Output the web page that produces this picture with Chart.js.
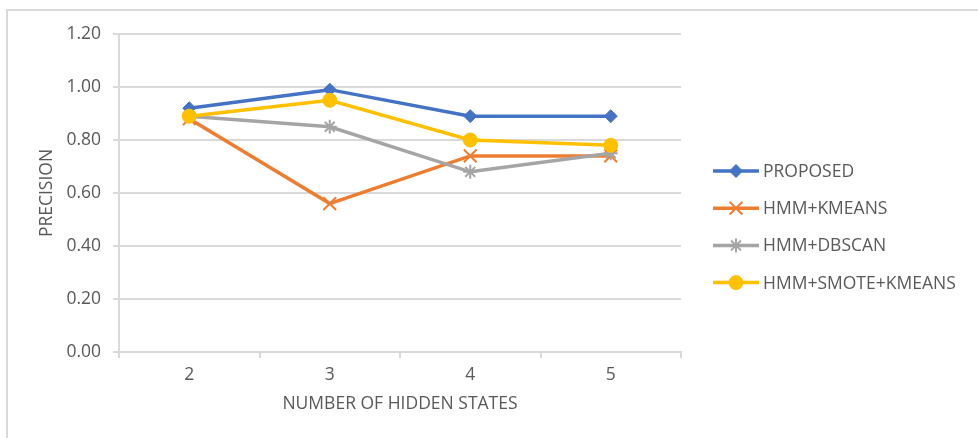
<!DOCTYPE html>
<html>
<head>
<meta charset="utf-8">
<script src="https://cdn.jsdelivr.net/npm/chart.js@4.4.1/dist/chart.umd.min.js"></script>
<style>
  html, body { margin: 0; padding: 0; background: #fff; }
  #wrap { position: relative; width: 978px; height: 438px; overflow: hidden; }
  #frame { position: absolute; left: 6px; top: 9px; width: 1000px; height: 500px;
           border-left: 2px solid #d9d9d9; border-top: 2px solid #d9d9d9; }
  canvas { position: absolute; left: 0; top: 0; }
</style>
</head>
<body>
<div id="wrap">
  <div id="frame"></div>
  <canvas id="precisionChart" width="978" height="438"></canvas>
</div>
<script>
// data
const hiddenStates = ['2', '3', '4', '5'];
const proposed = [0.92, 0.99, 0.89, 0.89];
const hmmKmeans = [0.88, 0.56, 0.74, 0.74];
const hmmDbscan = [0.89, 0.85, 0.68, 0.75];
const hmmSmoteKmeans = [0.89, 0.95, 0.80, 0.78];
const seriesNames = ['PROPOSED', 'HMM+KMEANS', 'HMM+DBSCAN', 'HMM+SMOTE+KMEANS'];
const yTickValues = [0, 0.2, 0.4, 0.6, 0.8, 1.0, 1.2];

const textColor = '#595959';
const gridColor = '#d9d9d9';
const fontFamily = '"Open Sans", "Liberation Sans", sans-serif';
const fontSize = 17.5;

// Excel-style legend: line sample with marker in the middle
const sideLegend = {
  id: 'sideLegend',
  afterDraw(chart) {
    const ctx = chart.ctx;
    const x0 = 713, lineLen = 46, y0 = 171, step = 37.2;
    chart.data.datasets.forEach((ds, i) => {
      const y = y0 + i * step;
      ctx.save();
      ctx.strokeStyle = ds.borderColor;
      ctx.lineWidth = ds.borderWidth;
      ctx.beginPath();
      ctx.moveTo(x0, y);
      ctx.lineTo(x0 + lineLen, y);
      ctx.stroke();
      ctx.fillStyle = ds.pointBackgroundColor;
      ctx.strokeStyle = ds.pointBorderColor;
      ctx.lineWidth = ds.pointBorderWidth;
      Chart.helpers.drawPoint(ctx, {
        pointStyle: ds.pointStyle,
        radius: ds.pointRadius,
        borderWidth: ds.pointBorderWidth,
        rotation: 0
      }, x0 + lineLen / 2, y);
      ctx.fillStyle = textColor;
      ctx.font = fontSize + 'px ' + fontFamily;
      ctx.textAlign = 'left';
      ctx.textBaseline = 'middle';
      ctx.fillText(ds.label, x0 + lineLen + 4, y + 1);
      ctx.restore();
    });
  }
};

function series(label, data, color, style, radius, bw, order) {
  return {
    label: label,
    data: data,
    borderColor: color,
    backgroundColor: color,
    borderWidth: 3.5,
    pointStyle: style,
    pointRadius: radius,
    pointHoverRadius: radius,
    pointBackgroundColor: color,
    pointBorderColor: color,
    pointBorderWidth: bw,
    tension: 0,
    order: order
  };
}

const ctx = document.getElementById('precisionChart').getContext('2d');
new Chart(ctx, {
  type: 'line',
  data: {
    labels: hiddenStates,
    datasets: [
      series(seriesNames[0], proposed, '#4472C4', 'rectRot', 6.5, 1, 3),
      series(seriesNames[1], hmmKmeans, '#ED7D31', 'crossRot', 9, 2, 2),
      series(seriesNames[2], hmmDbscan, '#A5A5A5', 'star', 7, 2, 1),
      series(seriesNames[3], hmmSmoteKmeans, '#FFC000', 'circle', 7, 1, 0)
    ]
  },
  options: {
    responsive: false,
    animation: false,
    layout: { padding: { left: 0, top: 34, right: 297, bottom: 0 } },
    plugins: {
      legend: { display: false },
      tooltip: { enabled: false }
    },
    scales: {
      x: {
        offset: true,
        afterFit: (scale) => { scale.height = 86; },
        grid: {
          offset: true,
          drawOnChartArea: false,
          drawTicks: true,
          tickLength: 6,
          color: gridColor,
          lineWidth: 2
        },
        border: { color: gridColor, width: 2 },
        ticks: { color: textColor, font: { family: fontFamily, size: fontSize }, padding: 7 },
        title: {
          display: true,
          text: 'NUMBER OF HIDDEN STATES',
          color: textColor,
          font: { family: fontFamily, size: fontSize },
          padding: { top: 0, bottom: 23 }
        }
      },
      y: {
        min: 0,
        max: 1.2,
        afterFit: (scale) => { scale.width = 119; },
        afterBuildTicks: (scale) => { scale.ticks = yTickValues.map(v => ({ value: v })); },
        grid: { color: gridColor, lineWidth: 2, drawTicks: true, tickLength: 6 },
        border: { color: gridColor, width: 2 },
        ticks: {
          color: textColor,
          font: { family: fontFamily, size: fontSize },
          padding: 12,
          callback: (v) => Number(v).toFixed(2)
        },
        title: {
          display: true,
          text: 'PRECISION',
          color: textColor,
          font: { family: fontFamily, size: fontSize },
          padding: { top: 37, bottom: 0 }
        }
      }
    }
  },
  plugins: [sideLegend]
});
</script>
</body>
</html>
